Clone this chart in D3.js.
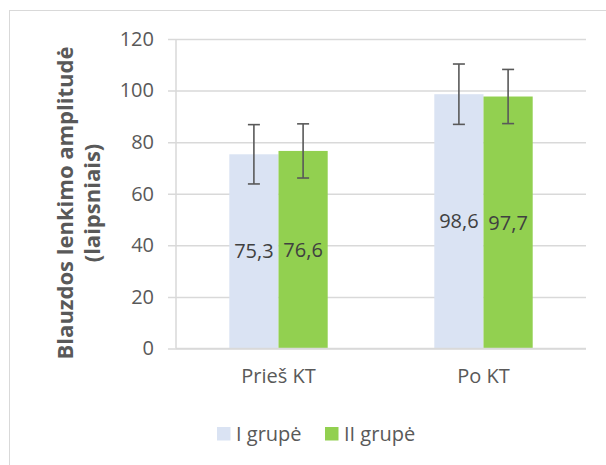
<!DOCTYPE html>
<html>
<head>
<meta charset="utf-8">
<script src="https://cdn.jsdelivr.net/npm/d3@7"></script>
<style>
  html, body { margin: 0; padding: 0; background: #fff; }
  svg { display: block; }
  text { font-family: "Open Sans", sans-serif; }
</style>
</head>
<body>
<svg id="chart" width="606" height="465"></svg>
<script>
// ---- data ----
const categories = ["Prieš KT", "Po KT"];
const seriesNames = ["I grupė", "II grupė"];
const seriesColors = ["#dae3f3", "#92d050"];
const groupI = [75.3, 98.6];
const groupII = [76.6, 97.7];
const errI = [11.5, 11.7];
const errII = [10.5, 10.5];
const yTicks = [0, 20, 40, 60, 80, 100, 120];
const yTitle1 = "Blauzdos lenkimo amplitudė";
const yTitle2 = "(laipsniais)";

const values = [groupI, groupII];
const errors = [errI, errII];
const fmt = v => d3.format(".1f")(v).replace(".", ",");

const svg = d3.select("#chart");
const W = 606, H = 465;
const plot = { left: 176, right: 586, top: 39, bottom: 348.5 };

// outer border
svg.append("rect")
  .attr("x", 9.5).attr("y", 10.5)
  .attr("width", 700).attr("height", 600)
  .attr("fill", "#fff").attr("stroke", "#d9d9d9").attr("stroke-width", 1);

const y = d3.scaleLinear().domain([0, 120]).range([plot.bottom, plot.top]);
const x0 = d3.scaleBand().domain(categories).range([plot.left, plot.right])
  .paddingInner(0.52).paddingOuter(0.26);
const x1 = d3.scaleBand().domain(seriesNames).range([0, x0.bandwidth()]);

// y axis with gridlines
const yAxis = d3.axisLeft(y).tickValues(yTicks)
  .tickSize(-(plot.right - plot.left)).tickPadding(22).tickSizeOuter(0);
const gy = svg.append("g").attr("transform", `translate(${plot.left},0)`).call(yAxis);
gy.select(".domain").remove();
gy.selectAll(".tick line").attr("stroke", "#d9d9d9").attr("stroke-width", 1.5)
  .attr("x1", -8);
gy.selectAll(".tick text").attr("fill", "#595959").attr("font-size", 20)
  .attr("font-family", "Open Sans, sans-serif");

// vertical axis line
svg.append("line")
  .attr("x1", plot.left).attr("x2", plot.left)
  .attr("y1", plot.top).attr("y2", plot.bottom)
  .attr("stroke", "#d9d9d9").attr("stroke-width", 1.5);

// bars
seriesNames.forEach((s, si) => {
  const g = svg.append("g");
  g.selectAll("rect").data(categories).join("rect")
    .attr("x", c => x0(c) + x1(s))
    .attr("width", x1.bandwidth())
    .attr("y", (c, i) => y(values[si][i]))
    .attr("height", (c, i) => y(0) - y(values[si][i]))
    .attr("fill", seriesColors[si]);
});

// x axis line on top of bars
svg.append("line")
  .attr("x1", plot.left).attr("x2", plot.right)
  .attr("y1", y(0)).attr("y2", y(0))
  .attr("stroke", "#d9d9d9").attr("stroke-width", 1.5);

// error bars
seriesNames.forEach((s, si) => {
  categories.forEach((c, i) => {
    const cx = x0(c) + x1(s) + x1.bandwidth() / 2;
    const v = values[si][i], e = errors[si][i];
    const g = svg.append("g").attr("stroke", "#595959").attr("stroke-width", 1.6);
    g.append("line").attr("x1", cx).attr("x2", cx).attr("y1", y(v + e)).attr("y2", y(v - e));
    g.append("line").attr("x1", cx - 6).attr("x2", cx + 6).attr("y1", y(v + e)).attr("y2", y(v + e));
    g.append("line").attr("x1", cx - 6).attr("x2", cx + 6).attr("y1", y(v - e)).attr("y2", y(v - e));
  });
});

// data labels
seriesNames.forEach((s, si) => {
  categories.forEach((c, i) => {
    const v = values[si][i];
    svg.append("text")
      .attr("x", x0(c) + x1(s) + x1.bandwidth() / 2)
      .attr("y", (y(v) + y(0)) / 2)
      .attr("dy", "0.35em")
      .attr("text-anchor", "middle")
      .attr("font-size", 20).attr("fill", "#404040")
      .text(fmt(v));
  });
});

// category labels
const xAxis = d3.axisBottom(x0).tickSize(0).tickPadding(20);
const gx = svg.append("g").attr("transform", `translate(0,${plot.bottom})`).call(xAxis);
gx.select(".domain").remove();
gx.selectAll(".tick text").attr("fill", "#595959").attr("font-size", 20)
  .attr("font-family", "Open Sans, sans-serif");

// y title
const tcy = 203;
svg.append("text")
  .attr("transform", `translate(73,${tcy}) rotate(-90)`)
  .attr("text-anchor", "middle").attr("font-size", 22).attr("font-weight", "bold")
  .attr("fill", "#595959").text(yTitle1);
svg.append("text")
  .attr("transform", `translate(100,${tcy}) rotate(-90)`)
  .attr("text-anchor", "middle").attr("font-size", 22).attr("font-weight", "bold")
  .attr("fill", "#595959").text(yTitle2);

// legend
const legendX = [217, 325];
seriesNames.forEach((s, si) => {
  svg.append("rect").attr("x", legendX[si]).attr("y", 427)
    .attr("width", 13.5).attr("height", 13.5).attr("fill", seriesColors[si]);
  svg.append("text").attr("x", legendX[si] + 19).attr("y", 441)
    .attr("font-size", 20).attr("fill", "#595959").text(s);
});
</script>
</body>
</html>
